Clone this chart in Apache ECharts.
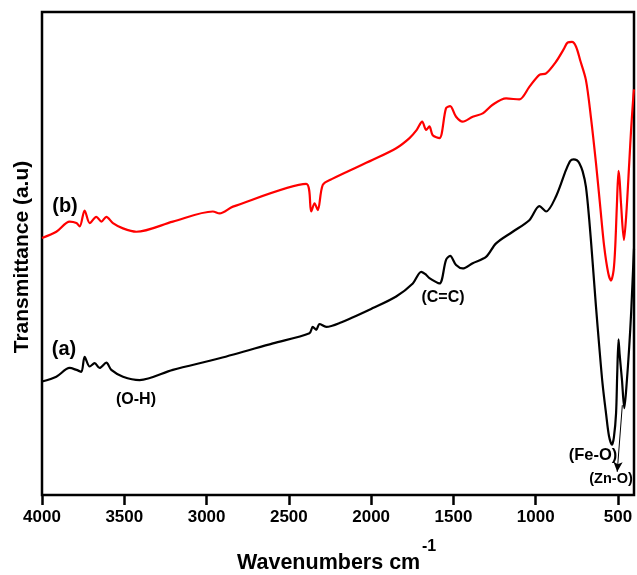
<!DOCTYPE html>
<html>
<head>
<meta charset="utf-8">
<script src="https://cdn.jsdelivr.net/npm/echarts@6/dist/echarts.min.js"></script>
<style>html,body{margin:0;padding:0;background:#fff;}#c{width:637px;height:575px;}</style>
</head>
<body>
<div id="c"></div>
<script>
// Sample (a): wavenumber (cm-1) and transmittance (a.u.)
var waveA = [4000,3913,3832,3791,3761,3741,3710,3680,3650,3609,3579,3508,3407,3205,2921,2597,2375,2355,2334,2314,2273,2192,1990,1848,1747,1696,1666,1646,1585,1545,1520,1484,1444,1383,1302,1241,1140,1039,978,937,877,816,790,770,750,735,715,695,675,654,634,614,594,573,555,537,525,512,505,497,490,476,462,450,432,420,407,403];
var transA = [23.5,24.5,26.3,25.9,25.5,28.6,26.6,27.3,26.3,27.4,25.9,24.5,23.8,25.9,28.3,31.4,33.5,34.8,34.2,35.4,34.8,35.6,38.7,41.1,43.8,46.2,45.6,44.9,43.8,48.7,49.5,47.6,46.9,48.0,49.3,52.1,54.5,56.9,59.8,58.7,61.8,67.3,69.2,69.5,69.3,68.7,67.0,63.8,57.0,48.0,39.0,30.7,23.0,16.9,12.2,10.4,12.0,16.9,25.0,32.2,29.0,23.8,18.0,22.0,30.7,38.0,48.0,51.0];
// Sample (b)
var waveB = [4000,3913,3832,3791,3771,3741,3710,3670,3639,3609,3569,3508,3427,3205,2962,2921,2840,2395,2364,2344,2324,2294,2240,1990,1848,1767,1723,1690,1666,1646,1626,1585,1545,1520,1484,1444,1383,1322,1262,1180,1100,1039,978,937,877,830,806,780,755,730,695,664,634,609,584,560,543,527,517,507,497,490,482,464,450,432,420,407,403];
var transB = [53.2,54.5,56.6,56.3,55.6,58.9,56.3,57.6,56.6,57.6,56.3,55.2,54.5,56.6,58.7,58.3,59.7,64.4,58.7,60.4,59.0,64.2,65.4,69.4,71.8,73.9,75.6,77.3,75.6,76.3,74.5,73.9,80.1,80.5,78.3,77.3,78.3,79.0,80.8,82.1,81.9,84.5,87.0,87.3,89.7,92.3,93.7,93.8,92.8,90.0,85.9,78.0,68.7,60.0,51.4,46.0,44.4,46.5,51.4,60.0,67.1,65.0,60.4,52.8,58.0,68.7,76.0,82.5,84.0];
var xTicks = [500,1000,1500,2000,2500,3000,3500,4000];

function pairs(w, t){ var o=[]; for(var i=0;i<w.length;i++) o.push([w[i], t[i]]); return o; }

var chart = echarts.init(document.getElementById('c'), null, {renderer:'canvas'});
var FF = '"Liberation Sans", Arial, sans-serif';
chart.setOption({
  animation:false,
  backgroundColor:'#fff',
  grid:{left:42, right:3, top:12, bottom:80, show:true, borderColor:'#000', borderWidth:2.5, backgroundColor:'transparent'},
  xAxis:{
    type:'value', inverse:true, min:403, max:4000,
    axisLine:{show:false},
    splitLine:{show:false},
    axisTick:{show:true, customValues:xTicks, length:10, inside:false, lineStyle:{color:'#000', width:2.5}},
    axisLabel:{show:true, customValues:xTicks, margin:14, color:'#000', fontFamily:FF, fontWeight:'bold', fontSize:17,
      formatter:function(v){ return String(v); }}
  },
  yAxis:{
    type:'value', min:0, max:100,
    axisLine:{show:false}, axisTick:{show:false}, axisLabel:{show:false}, splitLine:{show:false}
  },
  series:[
    {type:'line', name:'(a)', data:pairs(waveA, transA), showSymbol:false, smooth:0.3,
     lineStyle:{color:'#000', width:2.2, join:'round'}, itemStyle:{color:'#000'}, z:3,
     markLine:{silent:true, symbol:['none','arrow'], symbolSize:[7,10],
       lineStyle:{color:'#000', width:1, type:'solid'}, label:{show:false},
       data:[[{coord:[474,18.6]},{coord:[505,4.8]}]]}},
    {type:'line', name:'(b)', data:pairs(waveB, transB), showSymbol:false, smooth:0.3,
     lineStyle:{color:'#ff0000', width:2.2, join:'round'}, itemStyle:{color:'#ff0000'}, z:3}
  ],
  graphic:[
    {type:'text', left:237, top:552, style:{text:'Wavenumbers cm', fontFamily:FF, fontWeight:'bold', fontSize:21.5, fill:'#000'}},
    {type:'text', left:422, top:539, style:{text:'-1', fontFamily:FF, fontWeight:'bold', fontSize:16, fill:'#000'}},
    {type:'text', x:22, y:257, rotation:Math.PI/2, style:{text:'Transmittance (a.u)', fontFamily:FF, fontWeight:'bold', fontSize:21, fill:'#000', textAlign:'center', textVerticalAlign:'middle'}},
    {type:'text', x:65, y:206, style:{text:'(b)', fontFamily:FF, fontWeight:'bold', fontSize:20, fill:'#000', textAlign:'center', textVerticalAlign:'middle'}},
    {type:'text', x:64, y:349, style:{text:'(a)', fontFamily:FF, fontWeight:'bold', fontSize:20, fill:'#000', textAlign:'center', textVerticalAlign:'middle'}},
    {type:'text', x:136, y:400, style:{text:'(O-H)', fontFamily:FF, fontWeight:'bold', fontSize:16, fill:'#000', textAlign:'center', textVerticalAlign:'middle'}},
    {type:'text', x:443, y:298, style:{text:'(C=C)', fontFamily:FF, fontWeight:'bold', fontSize:16, fill:'#000', textAlign:'center', textVerticalAlign:'middle'}},
    {type:'text', x:593, y:455, style:{text:'(Fe-O)', fontFamily:FF, fontWeight:'bold', fontSize:16.5, fill:'#000', textAlign:'center', textVerticalAlign:'middle'}},
    {type:'text', x:611, y:479, style:{text:'(Zn-O)', fontFamily:FF, fontWeight:'bold', fontSize:14.5, fill:'#000', textAlign:'center', textVerticalAlign:'middle'}}
  ]
});
</script>
</body>
</html>
